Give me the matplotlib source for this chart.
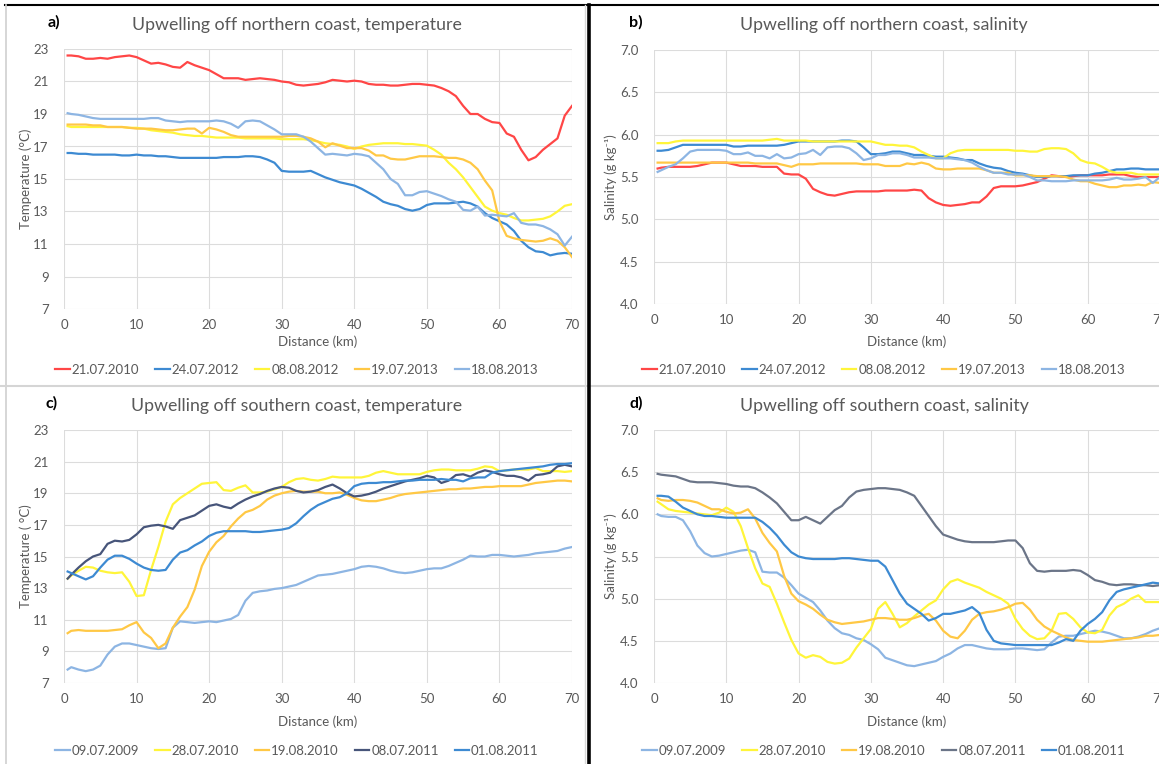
import numpy as np
import matplotlib.pyplot as plt
from matplotlib.lines import Line2D

plt.rcParams['font.family'] = ['Lato', 'DejaVu Sans']

# distance along the transect (km)
dist = [0.5] + list(range(1, 71))

# --- northern coast, temperature (°C)
tn_21072010 = [22.6, 22.6, 22.55, 22.4, 22.4, 22.45, 22.4, 22.5, 22.55, 22.6, 22.5,
               22.3, 22.1, 22.15, 22.05, 21.9, 21.85, 22.2, 22.0, 21.85, 21.7,
               21.45, 21.2, 21.2, 21.2, 21.1, 21.15, 21.2, 21.15, 21.1, 21.0,
               20.95, 20.8, 20.75, 20.8, 20.85, 20.95, 21.1, 21.05, 21.0, 21.05,
               21.0, 20.85, 20.8, 20.8, 20.75, 20.75, 20.8, 20.85, 20.85, 20.8,
               20.75, 20.6, 20.4, 20.1, 19.5, 19.0, 19.0, 18.7, 18.5, 18.45,
               17.8, 17.6, 16.8, 16.15, 16.35, 16.8, 17.15, 17.5, 18.9, 19.5]
tn_24072012 = [16.6, 16.6, 16.55, 16.55, 16.5, 16.5, 16.5, 16.5, 16.45, 16.45, 16.5,
               16.45, 16.45, 16.4, 16.4, 16.35, 16.3, 16.3, 16.3, 16.3, 16.3,
               16.3, 16.35, 16.35, 16.35, 16.4, 16.4, 16.35, 16.2, 16.0, 15.5,
               15.45, 15.45, 15.45, 15.5, 15.3, 15.1, 14.95, 14.8, 14.7, 14.6,
               14.4, 14.15, 13.9, 13.6, 13.45, 13.35, 13.15, 13.05, 13.15, 13.4,
               13.5, 13.5, 13.5, 13.55, 13.6, 13.5, 13.3, 12.9, 12.6, 12.4,
               12.2, 11.8, 11.2, 10.8, 10.55, 10.5, 10.3, 10.4, 10.45, 10.4]
tn_08082012 = [18.25, 18.2, 18.2, 18.2, 18.2, 18.2, 18.2, 18.2, 18.2, 18.15, 18.15,
               18.1, 18.0, 17.95, 17.9, 17.85, 17.75, 17.7, 17.65, 17.65, 17.6,
               17.55, 17.55, 17.55, 17.55, 17.5, 17.5, 17.5, 17.5, 17.5, 17.45,
               17.45, 17.45, 17.45, 17.4, 17.3, 17.2, 17.15, 17.1, 17.0, 16.85,
               17.0, 17.1, 17.15, 17.2, 17.2, 17.2, 17.15, 17.15, 17.1, 17.05,
               16.8, 16.5, 16.0, 15.6, 15.1, 14.5, 13.9, 13.3, 13.05, 12.9,
               12.8, 12.6, 12.45, 12.45, 12.5, 12.55, 12.7, 13.0, 13.35, 13.45]
tn_19072013 = [18.35, 18.35, 18.35, 18.35, 18.3, 18.3, 18.2, 18.2, 18.2, 18.15, 18.1,
               18.1, 18.1, 18.05, 18.0, 18.0, 18.05, 18.1, 18.1, 17.8, 18.15,
               18.05, 17.9, 17.7, 17.6, 17.6, 17.6, 17.6, 17.6, 17.6, 17.6,
               17.65, 17.65, 17.6, 17.5, 17.3, 16.95, 17.2, 17.05, 16.9, 16.9,
               16.9, 16.75, 16.45, 16.45, 16.25, 16.2, 16.2, 16.3, 16.4, 16.4,
               16.4, 16.35, 16.3, 16.3, 16.2, 16.0, 15.6, 14.9, 14.3, 12.4,
               11.5, 11.35, 11.25, 11.2, 11.15, 11.2, 11.35, 11.2, 10.8, 10.2]
tn_18082013 = [19.05, 19.0, 18.95, 18.85, 18.75, 18.7, 18.7, 18.7, 18.7, 18.7, 18.7,
               18.7, 18.75, 18.75, 18.6, 18.55, 18.5, 18.55, 18.55, 18.55, 18.55,
               18.6, 18.55, 18.4, 18.15, 18.55, 18.6, 18.55, 18.3, 18.05, 17.75,
               17.75, 17.75, 17.6, 17.3, 16.9, 16.5, 16.55, 16.5, 16.45, 16.55,
               16.5, 16.4, 16.0, 15.6, 15.0, 14.7, 14.0, 14.0, 14.2, 14.25,
               14.1, 13.95, 13.75, 13.6, 13.1, 13.05, 13.3, 12.75, 12.8, 12.75,
               12.7, 12.9, 12.3, 12.2, 12.2, 12.1, 11.9, 11.6, 10.9, 11.45]

# --- northern coast, salinity (g/kg)
sn_21072010 = [5.6, 5.61, 5.62, 5.62, 5.62, 5.62, 5.63, 5.65, 5.67, 5.67, 5.67,
               5.65, 5.63, 5.63, 5.63, 5.62, 5.62, 5.62, 5.54, 5.53, 5.53,
               5.48, 5.36, 5.32, 5.29, 5.28, 5.3, 5.32, 5.33, 5.33, 5.33,
               5.33, 5.34, 5.34, 5.34, 5.34, 5.35, 5.34, 5.25, 5.2, 5.17,
               5.16, 5.17, 5.18, 5.2, 5.2, 5.27, 5.37, 5.39, 5.39, 5.39,
               5.4, 5.42, 5.44, 5.48, 5.52, 5.51, 5.5, 5.51, 5.52, 5.52,
               5.52, 5.52, 5.53, 5.53, 5.53, 5.51, 5.5, 5.5, 5.5, 5.5]
sn_24072012 = [5.81, 5.81, 5.82, 5.85, 5.88, 5.88, 5.88, 5.88, 5.88, 5.88, 5.88,
               5.86, 5.86, 5.87, 5.87, 5.87, 5.87, 5.87, 5.88, 5.9, 5.92,
               5.92, 5.92, 5.92, 5.92, 5.92, 5.93, 5.93, 5.92, 5.85, 5.77,
               5.77, 5.78, 5.8, 5.8, 5.78, 5.76, 5.76, 5.75, 5.74, 5.74,
               5.73, 5.72, 5.7, 5.7, 5.66, 5.63, 5.61, 5.6, 5.57, 5.55,
               5.54, 5.52, 5.5, 5.5, 5.51, 5.51, 5.51, 5.52, 5.52, 5.52,
               5.54, 5.55, 5.57, 5.59, 5.59, 5.6, 5.6, 5.59, 5.59, 5.59]
sn_08082012 = [5.9, 5.9, 5.9, 5.92, 5.93, 5.93, 5.93, 5.93, 5.93, 5.93, 5.93,
               5.93, 5.93, 5.93, 5.93, 5.93, 5.94, 5.95, 5.93, 5.93, 5.93,
               5.93, 5.92, 5.92, 5.92, 5.92, 5.92, 5.92, 5.92, 5.92, 5.92,
               5.9, 5.88, 5.88, 5.87, 5.87, 5.85, 5.8, 5.76, 5.72, 5.72,
               5.78, 5.81, 5.82, 5.82, 5.82, 5.82, 5.82, 5.82, 5.82, 5.81,
               5.81, 5.8, 5.8, 5.83, 5.84, 5.84, 5.83, 5.78, 5.7, 5.67,
               5.66, 5.62, 5.57, 5.55, 5.55, 5.55, 5.53, 5.53, 5.53, 5.53]
sn_19072013 = [5.67, 5.67, 5.67, 5.67, 5.67, 5.67, 5.67, 5.67, 5.67, 5.67, 5.67,
               5.67, 5.67, 5.67, 5.66, 5.66, 5.66, 5.66, 5.64, 5.62, 5.65,
               5.65, 5.65, 5.66, 5.66, 5.66, 5.66, 5.66, 5.66, 5.65, 5.65,
               5.65, 5.63, 5.63, 5.63, 5.66, 5.65, 5.67, 5.65, 5.6, 5.59,
               5.59, 5.6, 5.6, 5.6, 5.6, 5.58, 5.55, 5.55, 5.55, 5.52,
               5.52, 5.52, 5.51, 5.51, 5.51, 5.51, 5.5, 5.47, 5.45, 5.45,
               5.42, 5.4, 5.38, 5.38, 5.4, 5.4, 5.41, 5.4, 5.44, 5.43]
sn_18082013 = [5.56, 5.58, 5.62, 5.65, 5.72, 5.8, 5.82, 5.82, 5.82, 5.82, 5.81,
               5.77, 5.77, 5.79, 5.75, 5.75, 5.72, 5.77, 5.72, 5.73, 5.77,
               5.78, 5.82, 5.76, 5.85, 5.86, 5.86, 5.84, 5.78, 5.7, 5.72,
               5.76, 5.76, 5.78, 5.78, 5.76, 5.73, 5.73, 5.73, 5.72, 5.72,
               5.72, 5.71, 5.7, 5.67, 5.62, 5.58, 5.55, 5.55, 5.53, 5.53,
               5.53, 5.5, 5.46, 5.46, 5.45, 5.45, 5.45, 5.46, 5.46, 5.46,
               5.46, 5.46, 5.47, 5.49, 5.47, 5.47, 5.48, 5.5, 5.43, 5.5]

# --- southern coast, temperature (°C)
ts_09072009 = [7.85, 8.0, 7.85, 7.75, 7.85, 8.1, 8.8, 9.3, 9.5, 9.5, 9.4,
               9.3, 9.2, 9.15, 9.2, 10.5, 10.9, 10.85, 10.8, 10.85, 10.9,
               10.85, 10.95, 11.05, 11.3, 12.2, 12.7, 12.8, 12.85, 12.95, 13.0,
               13.1, 13.2, 13.4, 13.6, 13.8, 13.85, 13.9, 14.0, 14.1, 14.2,
               14.35, 14.4, 14.35, 14.25, 14.1, 14.0, 13.95, 14.0, 14.1, 14.2,
               14.25, 14.25, 14.4, 14.6, 14.8, 15.05, 15.0, 15.0, 15.1, 15.1,
               15.05, 15.0, 15.05, 15.1, 15.2, 15.25, 15.3, 15.35, 15.5, 15.6]
ts_28072010 = [13.6, 13.8, 14.1, 14.35, 14.3, 14.1, 14.0, 13.95, 14.0, 13.4, 12.5,
               12.55, 14.15, 15.6, 17.2, 18.3, 18.7, 19.0, 19.3, 19.6, 19.65,
               19.7, 19.2, 19.15, 19.35, 19.5, 19.05, 19.05, 19.1, 19.25, 19.4,
               19.7, 19.9, 19.95, 19.85, 19.8, 19.9, 20.05, 20.0, 20.0, 20.0,
               20.0, 20.1, 20.3, 20.4, 20.3, 20.2, 20.2, 20.2, 20.2, 20.35,
               20.45, 20.5, 20.5, 20.45, 20.45, 20.45, 20.55, 20.7, 20.65, 20.4,
               20.45, 20.5, 20.5, 20.5, 20.6, 20.4, 20.4, 20.4, 20.35, 20.4]
ts_19082010 = [10.15, 10.3, 10.35, 10.3, 10.3, 10.3, 10.3, 10.35, 10.4, 10.65, 10.85,
               10.2, 9.85, 9.2, 9.5, 10.5, 11.2, 11.8, 12.9, 14.4, 15.3,
               15.9, 16.3, 16.9, 17.4, 17.8, 17.95, 18.2, 18.6, 18.85, 19.0,
               19.1, 19.15, 19.1, 19.1, 19.1, 19.0, 19.0, 19.05, 18.9, 18.7,
               18.55, 18.5, 18.5, 18.6, 18.7, 18.85, 18.95, 19.0, 19.05, 19.1,
               19.15, 19.2, 19.25, 19.25, 19.3, 19.3, 19.35, 19.4, 19.4, 19.45,
               19.45, 19.45, 19.45, 19.55, 19.65, 19.7, 19.75, 19.8, 19.8, 19.75]
ts_08072011 = [13.6, 13.85, 14.3, 14.7, 15.0, 15.15, 15.8, 16.0, 15.95, 16.05, 16.4,
               16.85, 16.95, 17.0, 16.9, 16.75, 17.3, 17.45, 17.6, 17.9, 18.2,
               18.3, 18.15, 18.05, 18.35, 18.6, 18.8, 18.95, 19.15, 19.3, 19.4,
               19.35, 19.15, 19.05, 19.1, 19.2, 19.4, 19.55, 19.3, 19.0, 18.8,
               18.85, 18.95, 19.1, 19.3, 19.45, 19.6, 19.75, 19.85, 19.95, 20.1,
               20.0, 19.65, 19.8, 20.15, 20.2, 20.05, 20.3, 20.45, 20.35, 20.2,
               20.1, 20.1, 20.0, 19.8, 20.15, 20.2, 20.3, 20.7, 20.8, 20.7]
ts_01082011 = [14.05, 13.95, 13.75, 13.55, 13.75, 14.3, 14.8, 15.05, 15.05, 14.85, 14.55,
               14.3, 14.15, 14.1, 14.15, 14.8, 15.25, 15.4, 15.7, 15.95, 16.3,
               16.5, 16.6, 16.6, 16.6, 16.6, 16.55, 16.55, 16.6, 16.65, 16.7,
               16.8, 17.1, 17.55, 17.95, 18.25, 18.45, 18.65, 18.75, 19.0, 19.45,
               19.6, 19.65, 19.65, 19.7, 19.7, 19.75, 19.8, 19.8, 19.85, 19.85,
               19.85, 19.9, 19.85, 19.85, 19.75, 19.95, 20.0, 20.0, 20.3, 20.4,
               20.45, 20.5, 20.55, 20.6, 20.65, 20.7, 20.8, 20.85, 20.85, 20.9]

# --- southern coast, salinity (g/kg)
ss_09072009 = [6.0, 5.98, 5.97, 5.97, 5.93, 5.8, 5.63, 5.54, 5.5, 5.51, 5.53,
               5.55, 5.57, 5.58, 5.55, 5.32, 5.31, 5.31, 5.25, 5.16, 5.06,
               5.01, 4.96, 4.86, 4.74, 4.65, 4.59, 4.57, 4.53, 4.51, 4.46,
               4.4, 4.3, 4.27, 4.24, 4.21, 4.2, 4.22, 4.24, 4.26, 4.31,
               4.35, 4.41, 4.45, 4.45, 4.43, 4.41, 4.4, 4.4, 4.4, 4.41,
               4.41, 4.4, 4.39, 4.4, 4.48, 4.55, 4.56, 4.56, 4.58, 4.6,
               4.62, 4.61, 4.59, 4.56, 4.53, 4.53, 4.55, 4.58, 4.62, 4.65]
ss_28072010 = [6.15, 6.12, 6.06, 6.04, 6.03, 6.02, 6.01, 6.0, 5.99, 6.02, 6.08,
               6.03, 5.86, 5.6, 5.36, 5.18, 5.14, 4.94, 4.72, 4.51, 4.35,
               4.3, 4.33, 4.31, 4.25, 4.23, 4.24, 4.29, 4.42, 4.53, 4.64,
               4.88, 4.96, 4.82, 4.66, 4.71, 4.79, 4.86, 4.93, 4.98, 5.11,
               5.2, 5.23, 5.19, 5.16, 5.13, 5.08, 5.04, 5.0, 4.94, 4.76,
               4.64, 4.56, 4.52, 4.53, 4.62, 4.82, 4.83, 4.76, 4.66, 4.6,
               4.59, 4.63, 4.8, 4.9, 4.94, 5.0, 5.04, 4.96, 4.96, 4.96]
ss_19082010 = [6.19, 6.17, 6.16, 6.17, 6.17, 6.16, 6.14, 6.1, 6.06, 6.06, 6.03,
               6.01, 6.02, 6.06, 5.95, 5.78, 5.66, 5.56, 5.27, 5.06, 4.97,
               4.93, 4.88, 4.81, 4.75, 4.72, 4.7, 4.71, 4.72, 4.73, 4.75,
               4.77, 4.77, 4.76, 4.75, 4.75, 4.77, 4.8, 4.82, 4.74, 4.62,
               4.55, 4.53, 4.62, 4.75, 4.82, 4.84, 4.85, 4.87, 4.9, 4.94,
               4.95, 4.87, 4.75, 4.67, 4.62, 4.58, 4.54, 4.51, 4.5, 4.49,
               4.49, 4.49, 4.5, 4.51, 4.52, 4.53, 4.54, 4.56, 4.56, 4.57]
ss_08072011 = [6.48, 6.47, 6.46, 6.45, 6.42, 6.39, 6.38, 6.38, 6.38, 6.37, 6.36,
               6.34, 6.33, 6.33, 6.31, 6.26, 6.2, 6.13, 6.03, 5.93, 5.93,
               5.97, 5.93, 5.89, 5.97, 6.05, 6.1, 6.2, 6.27, 6.29, 6.3,
               6.31, 6.31, 6.3, 6.29, 6.26, 6.22, 6.1, 5.98, 5.86, 5.76,
               5.73, 5.7, 5.68, 5.67, 5.67, 5.67, 5.67, 5.68, 5.69, 5.69,
               5.6, 5.42, 5.33, 5.32, 5.33, 5.33, 5.33, 5.34, 5.33, 5.28,
               5.22, 5.2, 5.17, 5.16, 5.17, 5.17, 5.16, 5.16, 5.15, 5.16]
ss_01082011 = [6.22, 6.22, 6.21, 6.15, 6.08, 6.04, 6.0, 5.98, 5.98, 5.97, 5.96,
               5.96, 5.96, 5.96, 5.96, 5.91, 5.84, 5.75, 5.64, 5.55, 5.5,
               5.48, 5.47, 5.47, 5.47, 5.47, 5.48, 5.48, 5.47, 5.46, 5.45,
               5.45, 5.38, 5.22, 5.06, 4.94, 4.88, 4.82, 4.74, 4.77, 4.82,
               4.82, 4.84, 4.86, 4.9, 4.83, 4.63, 4.5, 4.47, 4.46, 4.45,
               4.45, 4.45, 4.45, 4.45, 4.45, 4.48, 4.52, 4.5, 4.62, 4.7,
               4.76, 4.84, 4.98, 5.08, 5.11, 5.13, 5.15, 5.17, 5.19, 5.18]

north_dates = ['21.07.2010', '24.07.2012', '08.08.2012', '19.07.2013', '18.08.2013']
south_dates = ['09.07.2009', '28.07.2010', '19.08.2010', '08.07.2011', '01.08.2011']

RED = '#FF4646'
BLUE = '#3D8AD2'
YELLOW = '#FFF53A'
ORANGE = '#FFC845'
LIGHTBLUE = '#8DB5E3'
north_colors = [RED, BLUE, YELLOW, ORANGE, LIGHTBLUE]
south_colors_t = [LIGHTBLUE, YELLOW, ORANGE, '#47557A', BLUE]
south_colors_s = [LIGHTBLUE, YELLOW, ORANGE, '#6B7588', BLUE]

GREY = '#595959'
W, H = 1159, 764

fig = plt.figure(figsize=(W / 100, H / 100), dpi=100)


def px_ax(left, top, right, bottom):
    return fig.add_axes([left / W, 1 - bottom / H, (right - left) / W, (bottom - top) / H])


def panel(box, series, colors, labels, ylim, yticks, yfmt, ylabel, title, tag,
          title_x, title_y, tag_x, ylab_x, xlab_y, leg_y):
    ax = px_ax(*box)
    for ys, c, lab in zip(series, colors, labels):
        ax.plot(dist, ys, color=c, lw=1.6, label=lab, solid_joinstyle='round')
    ax.set_xlim(0, 70)
    ax.set_ylim(*ylim)
    ax.set_xticks(range(0, 71, 10))
    ax.set_yticks(yticks)
    ax.set_yticklabels([yfmt.format(v) for v in yticks])
    ax.grid(True, color='#DCDCDC', lw=0.8)
    ax.set_axisbelow(True)
    for s in ax.spines.values():
        s.set_visible(False)
    ax.tick_params(length=0, labelsize=9.5, labelcolor=GREY)
    ax.tick_params(axis='y', pad=11)
    ax.tick_params(axis='x', pad=7)
    fig.text(title_x / W, 1 - title_y / H, title, ha='center', va='center',
             fontsize=12.8, color=GREY)
    fig.text(tag_x / W, 1 - (title_y - 3) / H, tag, ha='center', va='center',
             fontsize=11.5, color='black', fontweight='bold')
    fig.text(ylab_x / W, 1 - (box[1] + box[3]) / 2 / H, ylabel, rotation=90,
             ha='center', va='center', fontsize=9.5, color=GREY)
    fig.text((box[0] + box[2]) / 2 / W, 1 - xlab_y / H, 'Distance (km)',
             ha='center', va='center', fontsize=9.5, color=GREY)
    handles = [Line2D([], [], color=c, lw=1.6) for c in colors]
    fig.legend(handles, labels, loc='center', ncol=5, frameon=False,
               bbox_to_anchor=(title_x / W, 1 - leg_y / H), fontsize=9.5,
               labelcolor=GREY, handlelength=1.1, handletextpad=0.15,
               columnspacing=1.2)
    return ax


temp_ticks = list(range(7, 24, 2))
sal_ticks = [4.0, 4.5, 5.0, 5.5, 6.0, 6.5, 7.0]
sal_label = 'Salinity (g kg\u207b\u00b9)'

panel((64, 49, 572, 309),
      [tn_21072010, tn_24072012, tn_08082012, tn_19072013, tn_18082013],
      north_colors, north_dates, (7, 23), temp_ticks, '{:d}',
      'Temperature (°C)', 'Upwelling off northern coast, temperature', 'a)',
      297, 25, 54, 26, 342, 370)
panel((654, 50, 1160, 304),
      [sn_21072010, sn_24072012, sn_08082012, sn_19072013, sn_18082013],
      north_colors, north_dates, (4, 7), sal_ticks, '{:.1f}',
      sal_label, 'Upwelling off northern coast, salinity', 'b)',
      884, 25, 636, 611, 342, 370)
panel((64, 430, 572, 683),
      [ts_09072009, ts_28072010, ts_19082010, ts_08072011, ts_01082011],
      south_colors_t, south_dates, (7, 23), temp_ticks, '{:d}',
      'Temperature ( °C)', 'Upwelling off southern coast, temperature', 'c)',
      297, 406, 52, 26, 722, 751)
panel((654, 430, 1160, 683),
      [ss_09072009, ss_28072010, ss_19082010, ss_08072011, ss_01082011],
      south_colors_s, south_dates, (4, 7), sal_ticks, '{:.1f}',
      sal_label, 'Upwelling off southern coast, salinity', 'd)',
      884, 406, 636, 611, 722, 751)

# frame lines separating the four panels
frame = fig.add_axes([0, 0, 1, 1], facecolor='none')
frame.set_xlim(0, W)
frame.set_ylim(H, 0)
frame.axis('off')
frame.plot([5, W], [5, 5], color='black', lw=1.5)
frame.plot([6, 6], [5, H], color='#D0D0D0', lw=1.2)
frame.plot([0, W], [386, 386], color='#D5D5D5', lw=1.5)
frame.plot([585, 585], [5, H], color='#D8D8D8', lw=1.0)
frame.plot([589, 589], [5, H], color='black', lw=2.6)

fig.savefig('out.png', dpi=100)
